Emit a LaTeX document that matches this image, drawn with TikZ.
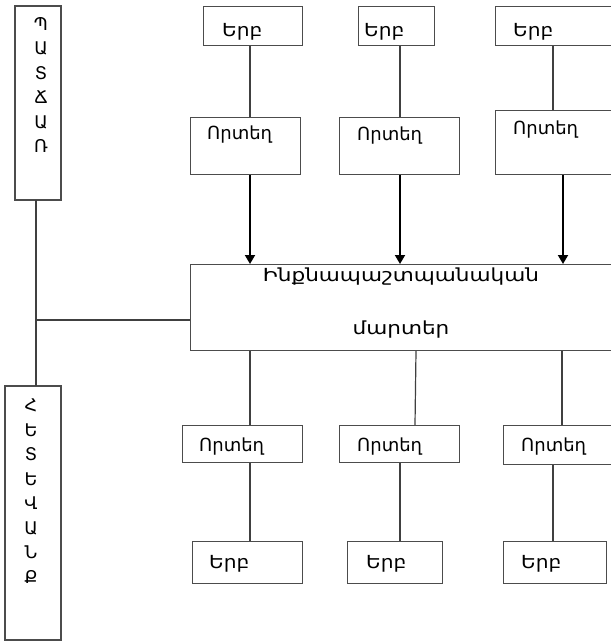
\documentclass[tikz,border=0pt]{standalone}
\usepackage{fontspec}
\setmainfont{DejaVu Sans}
\usetikzlibrary{arrows.meta}
\newcommand{\wE}[1]{\scalebox{1.12}[1]{#1}}
\newcommand{\wB}[1]{\scalebox{1.2}[1]{#1}}
\begin{document}
\begin{tikzpicture}[x=1pt,y=-1pt,
  box/.style={draw=black!70,line width=1.2pt,inner sep=0pt},
  lbl/.style={inner sep=0pt,anchor=base west,font=\fontsize{18}{20}\selectfont},
  vlbl/.style={inner sep=0pt,anchor=north,align=center,font=\fontsize{17.5}{24.5}\selectfont},
  conn/.style={draw=black!75,line width=1.2pt},
  arr/.style={draw=black,line width=1.8pt,-{Triangle[width=10pt,length=9pt]}}]
\useasboundingbox (0,0) rectangle (611,641);
\clip (0,0) rectangle (611,641);
% left boxes
\path[box] (15,6) rectangle (61,200);
\coordinate (pb) at (36,200);
\node[vlbl] (ptext) at (41,17) {Պ\\Ա\\Տ\\Ճ\\Ա\\Ռ};
\path[box] (5,386) rectangle (61,640);
\coordinate (ht) at (36,386);
\node[vlbl] (htext) at (31,399) {Հ\\Ե\\Տ\\Ե\\Վ\\Ա\\Ն\\Ք};
% top when
\node[box,anchor=north west,minimum width=99pt,minimum height=39pt] (t1) at (203,6) {};
\node[box,anchor=north west,minimum width=76pt,minimum height=39pt] (t2) at (358,6) {};
\node[box,anchor=north west,minimum width=125pt,minimum height=39pt] (t3) at (495,6) {};
\node[lbl] (t1l) at (222,36) {\wE{Երբ}};
\node[lbl] (t2l) at (364,36) {\wE{Երբ}};
\node[lbl] (t3l) at (513,36) {\wE{Երբ}};
% top where
\node[box,anchor=north west,minimum width=110pt,minimum height=57pt] (w1) at (190,117) {};
\node[box,anchor=north west,minimum width=120pt,minimum height=57pt] (w2) at (339,117) {};
\node[box,anchor=north west,minimum width=125pt,minimum height=64pt] (w3) at (495,110) {};
\node[lbl] (w1l) at (207,139) {Որտեղ};
\node[lbl] (w2l) at (357,140) {Որտեղ};
\node[lbl] (w3l) at (513,134) {Որտեղ};
% big box
\node[box,anchor=north west,minimum width=430pt,minimum height=86pt] (big) at (190,264) {};
\node[inner sep=0pt,anchor=base,font=\fontsize{18}{20}\selectfont] (bigl1) at (401,281) {\wB{Ինքնապաշտպանական}};
\node[inner sep=0pt,anchor=base,font=\fontsize{18}{20}\selectfont] (bigl2) at (401,334) {\wB{մարտեր}};
% bottom where
\node[box,anchor=north west,minimum width=120pt,minimum height=37pt] (b1) at (182,425) {};
\node[box,anchor=north west,minimum width=120pt,minimum height=37pt] (b2) at (339,425) {};
\node[box,anchor=north west,minimum width=120pt,minimum height=39pt] (b3) at (503,425) {};
\node[lbl] (b1l) at (199,451) {Որտեղ};
\node[lbl] (b2l) at (357,451) {Որտեղ};
\node[lbl] (b3l) at (521,451) {Որտեղ};
% bottom when
\node[box,anchor=north west,minimum width=110pt,minimum height=42pt] (e1) at (192,541) {};
\node[box,anchor=north west,minimum width=95pt,minimum height=42pt] (e2) at (347,541) {};
\node[box,anchor=north west,minimum width=103pt,minimum height=42pt] (e3) at (503,541) {};
\node[lbl] (e1l) at (209,568) {\wE{Երբ}};
\node[lbl] (e2l) at (366,568) {\wE{Երբ}};
\node[lbl] (e3l) at (521,568) {\wE{Երբ}};
% connectors
\draw[conn] (pb) -- (ht);
\draw[conn] (36,320) -- (big.west |- 0,320);
\draw[conn] (t1.south -| 250,0) -- (w1.north -| 250,0);
\draw[conn] (t2.south -| 400,0) -- (w2.north -| 400,0);
\draw[conn] (t3.south -| 553,0) -- (w3.north -| 553,0);
\draw[arr] (w1.south -| 250,0) -- (big.north -| 250,0);
\draw[arr] (w2.south -| 400,0) -- (big.north -| 400,0);
\draw[arr] (w3.south -| 563,0) -- (big.north -| 563,0);
\draw[conn] (big.south -| 250,0) -- (b1.north -| 250,0);
\draw[conn] (big.south -| 416,0) -- (b2.north -| 415,0);
\draw[conn] (big.south -| 562,0) -- (b3.north -| 562,0);
\draw[conn] (b1.south -| 250,0) -- (e1.north -| 250,0);
\draw[conn] (b2.south -| 400,0) -- (e2.north -| 400,0);
\draw[conn] (b3.south -| 553,0) -- (e3.north -| 553,0);
\end{tikzpicture}
\end{document}
